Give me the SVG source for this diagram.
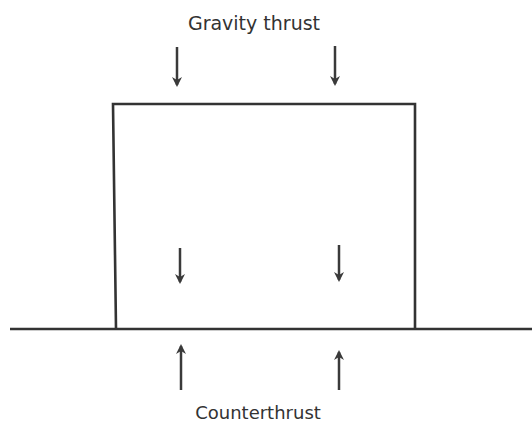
<svg xmlns="http://www.w3.org/2000/svg" width="532" height="421" viewBox="0 0 532 421">
<defs>
<marker id="ah" viewBox="0 0 10 10" refX="8" refY="5" markerWidth="4" markerHeight="4" orient="auto" markerUnits="strokeWidth">
<path d="M0,0 L10,5 L0,10 L3,5 Z" fill="#3a3a3a"/>
</marker>
</defs>
<style>
.ln{stroke:#333;stroke-width:2.6;fill:none}
.ar{stroke:#3a3a3a;stroke-width:2.5;fill:none;marker-end:url(#ah)}
.t{font-family:"DejaVu Sans",Verdana,sans-serif;fill:#333;text-anchor:middle}
</style>
<rect width="532" height="421" fill="#fff"/>
<g id="ground"><line class="ln" x1="10" y1="329" x2="532" y2="329"/></g>
<g id="block"><path class="ln" d="M116,329 L113,104 L415,104 L415,329"/></g>
<g id="labels">
<text class="t" x="254" y="29.5" font-size="19">Gravity thrust</text>
<text class="t" x="258" y="418.5" font-size="18">Counterthrust</text>
</g>
<g id="connectors">
<line class="ar" x1="177" y1="47" x2="177" y2="85"/>
<line class="ar" x1="335" y1="46" x2="335" y2="84"/>
<line class="ar" x1="180" y1="248" x2="180" y2="282"/>
<line class="ar" x1="339" y1="245" x2="339" y2="280"/>
<line class="ar" x1="181" y1="390" x2="181" y2="346"/>
<line class="ar" x1="339" y1="390" x2="339" y2="352"/>
</g>
</svg>
